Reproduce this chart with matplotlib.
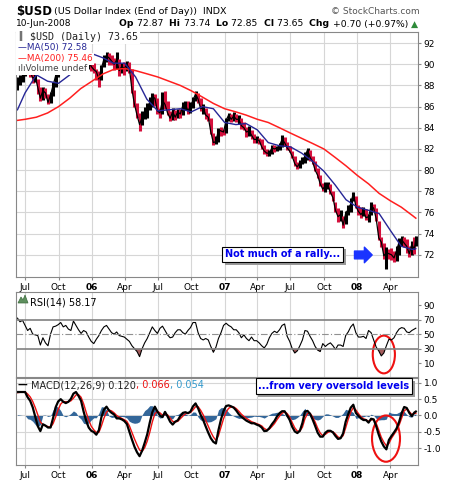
import matplotlib
matplotlib.use('Agg')
import matplotlib.pyplot as plt
import matplotlib.dates as mdates
import matplotlib.patheffects as pe
from matplotlib.patches import Ellipse, Polygon
from matplotlib.offsetbox import TextArea, HPacker, AnchoredOffsetbox
import numpy as np
import pandas as pd

# weekly bars (Fridays) plus the last day, 10-Jun-2008
week_dates = pd.date_range('2005-06-10', '2008-06-06', freq='W-FRI').append(pd.DatetimeIndex(['2008-06-10']))

closes = [88.3, 88.6, 88.9,
          89.6, 89.8, 89.3, 88.7, 88.8,
          87.8, 86.8, 87.5, 87.3,
          86.4, 87.1, 88.0, 88.9, 89.4,
          89.6, 90.0, 90.2, 90.4,
          90.8, 91.8, 92.2, 91.6,
          91.2, 90.8, 89.9, 90.3, 89.8,
          # 2006
          89.5, 89.3, 88.6, 89.6,
          90.5, 90.8, 90.6, 90.3,
          90.0, 90.4, 89.4, 89.8, 89.6,
          90.0, 89.6, 87.6, 86.2,
          85.2, 84.3, 85.0, 85.3,
          85.8, 86.4, 86.9, 86.8, 85.6,
          85.4, 86.6, 86.2, 85.4,
          84.9, 85.5, 85.0, 85.5,
          85.3, 86.1, 86.2, 85.6, 86.0,
          86.6, 87.2, 86.7, 85.8,
          85.9, 85.2, 85.0, 83.6,
          82.6, 82.7, 83.8, 83.7, 83.6,
          # 2007
          84.7, 85.2, 84.8, 85.1,
          84.8, 84.8, 84.2, 84.0,
          83.6, 83.7, 83.3, 82.9, 82.9,
          82.8, 82.2, 81.8, 81.6,
          81.6, 82.1, 82.0, 82.1,
          82.3, 82.9, 82.6, 82.1, 81.8,
          81.3, 80.6, 80.3, 80.7,
          80.9, 81.3, 81.9, 81.2, 80.8,
          80.0, 79.5, 78.7, 78.2,
          78.5, 78.6, 77.9, 77.4,
          76.2, 75.6, 75.8, 74.8, 75.9,
          76.3, 76.8, 77.8, 76.6,
          # 2008
          76.1, 75.8, 76.1, 75.5,
          75.6, 76.6, 76.4, 75.4, 73.6,
          73.2, 71.9, 72.2, 72.1,
          72.0, 71.7, 72.4, 73.2,
          73.4, 73.1, 72.8, 72.1, 73.0,
          72.5, 73.65]
highs = [88.8, 89.0, 89.3,
         90.0, 90.3, 89.9, 89.6, 89.2,
         88.6, 87.9, 87.9, 87.8,
         87.2, 87.4, 88.3, 89.1, 89.7,
         90.2, 90.4, 90.7, 90.9,
         91.0, 92.1, 92.6, 92.4,
         91.8, 91.4, 90.9, 90.6, 90.4,
         90.1, 89.6, 89.4, 89.9,
         90.9, 91.2, 91.1, 90.9,
         90.6, 91.2, 90.5, 90.1, 90.2,
         90.3, 90.2, 89.6, 87.6,
         86.3, 85.4, 85.6, 86.0,
         86.3, 86.9, 87.3, 87.2, 86.8,
         85.9, 87.4, 87.5, 86.5,
         85.6, 85.9, 85.7, 85.8,
         85.8, 86.4, 86.5, 86.5, 86.4,
         86.9, 87.5, 87.3, 86.8,
         86.2, 85.9, 85.4, 84.9,
         83.5, 83.2, 84.0, 84.1, 83.9,
         84.9, 85.4, 85.3, 85.5,
         85.3, 85.2, 84.9, 84.5,
         84.1, 84.2, 83.8, 83.4, 83.2,
         83.0, 82.9, 82.4, 82.0,
         81.9, 82.4, 82.4, 82.3,
         82.6, 83.3, 83.1, 82.7, 82.3,
         81.8, 81.3, 80.8, 81.0,
         81.2, 81.7, 82.1, 81.9, 81.3,
         80.9, 80.2, 79.5, 78.8,
         78.9, 78.9, 78.7, 78.0,
         77.0, 76.4, 76.2, 75.7, 76.1,
         76.7, 77.4, 77.9, 77.6,
         76.7, 76.5, 76.5, 76.3,
         75.9, 77.0, 76.8, 76.4, 75.2,
         73.7, 73.1, 72.7, 72.5,
         72.6, 72.4, 72.8, 73.6,
         73.8, 73.7, 73.5, 72.8, 73.3,
         73.7, 73.74]
lows = [87.6, 88.0, 88.3,
        88.9, 89.2, 88.8, 88.2, 88.3,
        87.2, 86.5, 86.6, 86.8,
        86.2, 86.3, 87.0, 87.9, 88.8,
        89.3, 89.5, 89.7, 89.9,
        89.9, 90.7, 91.5, 91.2,
        90.6, 90.3, 89.4, 89.6, 89.4,
        89.2, 88.5, 87.9, 88.5,
        89.7, 90.2, 89.9, 89.9,
        89.5, 89.6, 88.9, 89.2, 89.0,
        89.4, 89.2, 87.3, 86.0,
        84.9, 83.7, 84.3, 84.8,
        84.9, 85.7, 86.0, 86.1, 85.3,
        84.9, 85.3, 85.8, 85.2,
        84.6, 84.7, 84.7, 84.9,
        84.9, 85.2, 85.7, 85.3, 85.4,
        85.9, 86.5, 86.3, 85.6,
        85.3, 84.8, 84.6, 83.4,
        82.4, 82.5, 82.7, 83.2, 83.3,
        83.5, 84.6, 84.5, 84.6,
        84.5, 84.4, 83.9, 83.8,
        83.1, 83.2, 82.9, 82.6, 82.6,
        82.5, 82.0, 81.5, 81.3,
        81.3, 81.5, 81.7, 81.8,
        81.9, 82.2, 82.3, 81.9, 81.7,
        81.1, 80.4, 80.1, 80.2,
        80.6, 80.7, 81.0, 80.9, 80.6,
        79.9, 79.3, 78.5, 78.0,
        77.9, 78.2, 77.7, 77.1,
        76.0, 75.1, 75.2, 74.5, 74.9,
        75.8, 76.0, 77.1, 76.4,
        75.8, 75.5, 75.7, 75.3,
        75.1, 75.8, 76.0, 75.2, 73.4,
        72.7, 71.6, 70.7, 71.6,
        71.5, 71.3, 71.4, 72.0,
        72.8, 72.7, 72.2, 71.8, 72.0,
        72.1, 72.85]

# moving averages, read at month starts
ma_dates = (pd.DatetimeIndex(['2005-06-10'])
            .append(pd.date_range('2005-07-01', '2008-06-01', freq='MS'))
            .append(pd.DatetimeIndex(['2008-06-10'])))
ma50 = [85.7, 87.3, 89.0, 88.4, 88.2, 89.0, 90.5,
        91.0, 90.6, 90.1, 90.1, 88.8, 86.7, 85.6, 85.7, 85.8, 85.5, 86.0, 85.8,
        84.5, 84.3, 84.4, 83.8, 82.6, 82.3, 82.2, 81.6, 80.8, 79.9, 78.6, 77.2,
        76.5, 76.2, 75.9, 74.3, 72.8, 72.5, 72.58]
ma200 = [84.7, 84.8, 85.0, 85.4, 86.0, 86.8, 87.7,
         88.4, 89.1, 89.5, 89.6, 89.4, 89.1, 88.8, 88.4, 88.0, 87.5, 86.9, 86.3,
         85.8, 85.5, 85.2, 84.8, 84.5, 84.0, 83.5, 83.0, 82.5, 82.0, 81.2, 80.4,
         79.5, 78.7, 77.8, 77.1, 76.5, 75.7, 75.46]

rsi = [72, 67, 69, 62, 55, 58, 50, 49, 48, 35,
       45, 38, 34, 50, 60, 61, 63, 66, 60, 62,
       57, 55, 68, 62, 56, 51, 55, 53, 46, 40,
       37, 43, 48, 55, 60, 62, 57, 52, 50, 53,
       48, 47, 46, 43, 40, 34, 30, 26, 19, 30,
       38, 44, 52, 60, 55, 51, 58, 61, 55, 49,
       45, 46, 52, 56, 56, 52, 50, 55, 59, 66,
       66, 52, 44, 42, 44, 42, 33, 25, 32, 44,
       52, 62, 65, 62, 60, 56, 56, 52, 45, 49,
       44, 41, 46, 41, 41, 38, 34, 31, 36, 45,
       51, 54, 52, 56, 62, 64, 47, 40, 30, 24,
       27, 34, 42, 55, 54, 47, 41, 33, 28, 26,
       37, 33, 36, 38, 34, 29, 35, 35, 33, 48,
       53, 60, 64, 52, 46, 46, 47, 44, 55, 52,
       42, 32, 27, 20, 24, 34, 43, 42, 45, 52,
       57, 59, 58, 53, 52, 55, 57, 58.17]

macd = [0.72, 0.72, 0.72, 0.72, 0.56, 0.45, 0.25, -0.04, -0.33, -0.48,
        -0.27, -0.31, -0.37, -0.37, -0.08, 0.25, 0.43, 0.50, 0.42, 0.38,
        0.42, 0.51, 0.67, 0.72, 0.60, 0.45, 0.12, -0.16, -0.37, -0.47,
        -0.51, -0.59, -0.45, -0.05, 0.18, 0.27, 0.15, 0.08, 0.03, -0.09,
        -0.09, -0.12, -0.17, -0.26, -0.50, -0.74, -0.96, -1.13, -1.25, -1.08,
        -0.84, -0.58, -0.22, 0.10, 0.27, 0.12, 0.00, -0.05, 0.11, -0.03,
        -0.19, -0.28, -0.19, -0.15, -0.02, 0.08, 0.10, 0.07, 0.12, 0.28,
        0.37, 0.22, 0.02, -0.14, -0.34, -0.53, -0.70, -0.81, -0.86, -0.45,
        -0.12, 0.14, 0.29, 0.31, 0.28, 0.24, 0.15, 0.04, -0.04, -0.10,
        -0.16, -0.20, -0.24, -0.24, -0.28, -0.31, -0.37, -0.48, -0.47, -0.39,
        -0.27, -0.17, -0.03, 0.07, 0.13, 0.13, 0.00, -0.14, -0.35, -0.49,
        -0.54, -0.47, -0.23, 0.12, 0.14, 0.05, -0.12, -0.32, -0.53, -0.65,
        -0.65, -0.53, -0.47, -0.47, -0.52, -0.63, -0.72, -0.70, -0.55, -0.19,
        0.04, 0.24, 0.33, 0.08, -0.01, -0.09, -0.14, -0.14, -0.22, -0.10,
        -0.12, -0.33, -0.59, -0.80, -0.95, -1.04, -0.75, -0.63, -0.52, -0.40,
        -0.20, 0.07, 0.26, 0.23, 0.08, -0.02, 0.09, 0.12]
signal = [0.70, 0.71, 0.72, 0.72, 0.66, 0.57, 0.43, 0.24, 0.02, -0.20,
          -0.28, -0.32, -0.34, -0.36, -0.25, -0.05, 0.18, 0.35, 0.43, 0.42,
          0.42, 0.45, 0.53, 0.63, 0.64, 0.56, 0.36, 0.10, -0.14, -0.33,
          -0.44, -0.52, -0.52, -0.32, -0.08, 0.10, 0.17, 0.14, 0.08, 0.00,
          -0.05, -0.09, -0.13, -0.18, -0.32, -0.52, -0.72, -0.90, -1.06, -1.10,
          -0.99, -0.79, -0.52, -0.20, 0.05, 0.13, 0.08, 0.01, 0.03, 0.02,
          -0.08, -0.18, -0.20, -0.18, -0.10, -0.02, 0.05, 0.07, 0.09, 0.17,
          0.27, 0.27, 0.16, 0.02, -0.15, -0.33, -0.51, -0.66, -0.76, -0.62,
          -0.36, -0.10, 0.10, 0.22, 0.26, 0.26, 0.21, 0.13, 0.04, -0.03,
          -0.09, -0.14, -0.19, -0.22, -0.25, -0.28, -0.32, -0.40, -0.44, -0.42,
          -0.34, -0.25, -0.13, -0.02, 0.07, 0.11, 0.06, -0.05, -0.22, -0.38,
          -0.48, -0.48, -0.36, -0.10, 0.06, 0.07, -0.04, -0.20, -0.39, -0.54,
          -0.62, -0.58, -0.52, -0.49, -0.50, -0.57, -0.66, -0.69, -0.62, -0.38,
          -0.12, 0.10, 0.24, 0.17, 0.06, -0.04, -0.10, -0.13, -0.18, -0.14,
          -0.12, -0.24, -0.45, -0.67, -0.82, -0.93, -0.86, -0.70, -0.58, -0.46,
          -0.30, -0.08, 0.14, 0.20, 0.12, 0.03, 0.06, 0.066]

quarter_ticks = pd.date_range('2005-07-01', '2008-04-01', freq='QS-JAN')
quarter_labels = ['Jul', 'Oct', '06', 'Apr', 'Jul', 'Oct', '07', 'Apr', 'Jul', 'Oct', '08', 'Apr']

W, H = 458, 480
fig = plt.figure(figsize=(W / 100, H / 100), dpi=100)
fig.patch.set_facecolor('white')


def px_axes(left, top, right, bottom):
    return fig.add_axes([left / W, 1 - bottom / H, (right - left) / W, (bottom - top) / H])


ax_p = px_axes(16, 32, 418, 277)
ax_r = px_axes(16, 292, 418, 377)
ax_m = px_axes(16, 378, 418, 465)

for ax in (ax_p, ax_r, ax_m):
    ax.set_xlim(pd.Timestamp('2005-06-06'), pd.Timestamp('2008-06-16'))
    ax.set_axisbelow(True)
    ax.yaxis.tick_right()
    ax.tick_params(axis='both', labelsize=6.5, length=2, pad=2, color='#888888')
    for s in ax.spines.values():
        s.set_color('#888888')
        s.set_linewidth(0.8)
    ax.set_xticks(quarter_ticks)
    ax.grid(axis='x', color='#d6d6d6', lw=0.8)
    ax.set_xticklabels(quarter_labels)
    for lab in ax.get_xticklabels():
        if lab.get_text().isdigit():
            lab.set_fontweight('bold')
ax_r.tick_params(axis='x', labelbottom=False)

# ---- price panel ----
c = np.array(closes)
prev = np.r_[c[0], c[:-1]]
bar_cols = np.where(c >= prev, 'black', '#d4103c')
ax_p.vlines(week_dates, lows, highs, colors=bar_cols, lw=2.2)
ax_p.plot(week_dates, c, color='black', lw=0.9)
ax_p.plot(ma_dates, ma200, color='#ff1f1f', lw=1.1)
ax_p.plot(ma_dates, ma50, color='#262696', lw=1.0)
ax_p.set_ylim(69.9, 93.05)
ax_p.set_yticks(np.arange(72, 93, 2))
ax_p.grid(axis='y', color='#d6d6d6', lw=0.8)

# legend rows, each on its own white strip
row_bg = dict(boxstyle='square,pad=0.2', fc='white', ec='none')
legend_rows = [('\u2551 $USD (Daily) 73.65', '#222222', 36, 7.2, 'DejaVu Sans Mono'),
               ('\u2014MA(50) 72.58', '#262696', 47.5, 6.4, 'DejaVu Sans'),
               ('\u2014MA(200) 75.46', '#ff1f1f', 59, 6.4, 'DejaVu Sans'),
               ('\u0131l\u0131Volume undef', '#444444', 68.5, 6.4, 'DejaVu Sans')]
for txt, col, ypx, fs, fam in legend_rows:
    ax_p.text(2 / 402, (277 - ypx) / 245, txt, transform=ax_p.transAxes, color=col, fontsize=fs,
              family=fam, va='center', ha='left', bbox=row_bg, zorder=6)

box_kw = dict(boxstyle='square,pad=0.3', fc='white', ec='black', lw=0.8)
for ax, txt, xy in ((ax_p, 'Not much of a rally...', (0.664, 0.092)),
                    (ax_m, '...from very oversold levels', (0.791, 0.905))):
    t = ax.text(*xy, txt, transform=ax.transAxes, ha='center', va='center', fontsize=7,
                fontweight='bold', color='#0000ee', bbox=box_kw, zorder=7)
    t.get_bbox_patch().set_path_effects([pe.SimplePatchShadow(offset=(2, -2), shadow_rgbFace='#999999', alpha=1),
                                         pe.Normal()])

ax_p.annotate('', xy=(0.886, 0.09), xytext=(0.842, 0.09), xycoords='axes fraction',
              arrowprops=dict(arrowstyle='simple,head_length=0.7,head_width=1.4,tail_width=0.7',
                              mutation_scale=8, color='#1a33ff', shrinkA=0, shrinkB=0))

# ---- RSI panel ----
r = np.array(rsi, dtype=float)
ax_r.plot(week_dates, r, color='black', lw=0.8)
ax_r.fill_between(week_dates, r, 30, where=r < 30, interpolate=True, color='#a35c5c', lw=0)
ax_r.fill_between(week_dates, r, 70, where=r > 70, interpolate=True, color='#6b9a6b', lw=0)
ax_r.axhline(70, color='#808080', lw=1.2)
ax_r.axhline(30, color='#808080', lw=1.2)
ax_r.axhline(50, color='#909090', lw=0.8, dashes=(6, 2, 1, 2))
ax_r.set_ylim(-9, 108)
ax_r.set_yticks([10, 30, 50, 70, 90])
ax_r.text(0.035, 0.93, 'RSI(14) 58.17', transform=ax_r.transAxes, fontsize=7, va='top')
icon = np.array([[18, 303], [21, 297], [23, 300], [25, 295], [28, 303]], dtype=float)
fig.add_artist(Polygon(np.c_[icon[:, 0] / W, 1 - icon[:, 1] / H], closed=True,
                       transform=fig.transFigure, fc='#5e8f5e', ec='#3d6b3d', lw=0.5))
ax_r.add_patch(Ellipse((mdates.date2num(pd.Timestamp('2008-03-14')), 22), width=61, height=52,
                       fill=False, ec='#ee1111', lw=1.5))

# ---- MACD panel ----
m = np.array(macd)
sg = np.array(signal)
ax_m.fill_between(week_dates, 0, m - sg, color='#336699', lw=0)
ax_m.plot(week_dates, sg, color='#ee1111', lw=1.0)
ax_m.plot(week_dates, m, color='black', lw=1.6)
ax_m.set_ylim(-1.52, 1.15)
ax_m.set_yticks([-1.0, -0.5, 0.0, 0.5, 1.0])
ax_m.set_yticklabels(['-1.0', '-0.5', '0.0', '0.5', '1.0'])
ax_m.grid(axis='y', color='#d6d6d6', lw=0.8)
ax_m.add_patch(Ellipse((mdates.date2num(pd.Timestamp('2008-03-20')), -0.71), width=77, height=1.42,
                       fill=False, ec='#ee1111', lw=1.5))


def packed_text(parts, anchor, loc, size=6.5):
    boxes = [TextArea(t, textprops=dict(color=col, fontsize=size, fontweight=wt)) for t, col, wt in parts]
    row = HPacker(children=boxes, align='baseline', pad=0, sep=0)
    fig.add_artist(AnchoredOffsetbox(loc=loc, child=row, pad=0, borderpad=0, frameon=False,
                                     bbox_to_anchor=anchor, bbox_transform=fig.transFigure))


packed_text([('\u2014 ', 'black', 'bold'), ('MACD(12,26,9) 0.120', '#222222', 'normal'),
             (', 0.066', '#ee1111', 'normal'), (', 0.054', '#3399cc', 'normal')],
            (18 / W, 1 - 385 / H), 'center left', size=7)

# ---- header ----
fig.text(16 / W, 1 - 11 / H, '$USD', fontsize=8.5, fontweight='bold', va='center')
fig.text(54 / W, 1 - 11 / H, '(US Dollar Index (End of Day))  INDX', fontsize=6.8, va='center')
fig.text(420 / W, 1 - 11 / H, '\u00a9 StockCharts.com', fontsize=6.5, color='#555555', ha='right', va='center')
fig.text(16 / W, 1 - 24 / H, '10-Jun-2008', fontsize=6.5, va='center')
packed_text([('Op ', 'black', 'bold'), ('72.87  ', 'black', 'normal'),
             ('Hi ', 'black', 'bold'), ('73.74  ', 'black', 'normal'),
             ('Lo ', 'black', 'bold'), ('72.85  ', 'black', 'normal'),
             ('Cl ', 'black', 'bold'), ('73.65  ', 'black', 'normal'),
             ('Chg ', 'black', 'bold'), ('+0.70 (+0.97%) ', 'black', 'normal'),
             ('\u25b2', '#2e8b3a', 'normal')],
            (418 / W, 1 - 24 / H), 'center right', size=6.7)

fig.savefig('out.png', dpi=100, facecolor='white')
